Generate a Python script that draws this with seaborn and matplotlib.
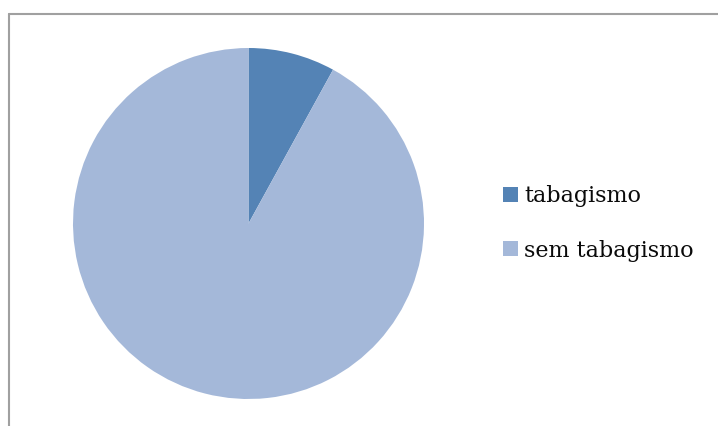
import matplotlib
matplotlib.use("Agg")
import matplotlib.pyplot as plt
from matplotlib.lines import Line2D
from matplotlib.patches import Patch
import seaborn as sns

categories = ["tabagismo", "sem tabagismo"]
shares = [8, 92]
colors = ["#5483B5", "#A4B8D9"]

sns.set_theme(style="white")
plt.rcParams["font.family"] = ["DejaVu Serif"]

W, H = 718, 426
fig = plt.figure(figsize=(W / 100, H / 100), dpi=100)
fig.patch.set_facecolor("white")

# pie axes: centre (248.5, 223.5) px, radius 175.5 px
cx, cy, r = 248.5, 223.5, 175.5
ax = fig.add_axes([(cx - r) / W, 1 - (cy + r) / H, 2 * r / W, 2 * r / H])
ax.pie(shares, colors=colors, startangle=90, counterclock=False,
       radius=1, wedgeprops=dict(linewidth=0))
ax.set_xlim(-1, 1)
ax.set_ylim(-1, 1)
ax.set_aspect("equal")
ax.axis("off")

# legend to the right of the pie
fs = 16
handles = [Patch(facecolor=c, edgecolor="none") for c in colors]
fig.legend(handles, categories, loc="center left",
           bbox_to_anchor=(503 / W, 1 - 223.5 / H),
           frameon=False, fontsize=fs, borderpad=0, borderaxespad=0,
           handlelength=0.68, handleheight=0.68, handletextpad=0.27,
           labelspacing=1.45, labelcolor="#0A0A0A")

# chart-area frame (top and left edges)
gray = "#A0A0A0"
fig.add_artist(Line2D([8.5 / W, 8.5 / W], [0, 1 - 13.5 / H],
                      transform=fig.transFigure, color=gray, lw=1.5))
fig.add_artist(Line2D([8.5 / W, 1], [1 - 13.5 / H, 1 - 13.5 / H],
                      transform=fig.transFigure, color=gray, lw=1.5))

fig.savefig("out.png", dpi=100, facecolor="white")
